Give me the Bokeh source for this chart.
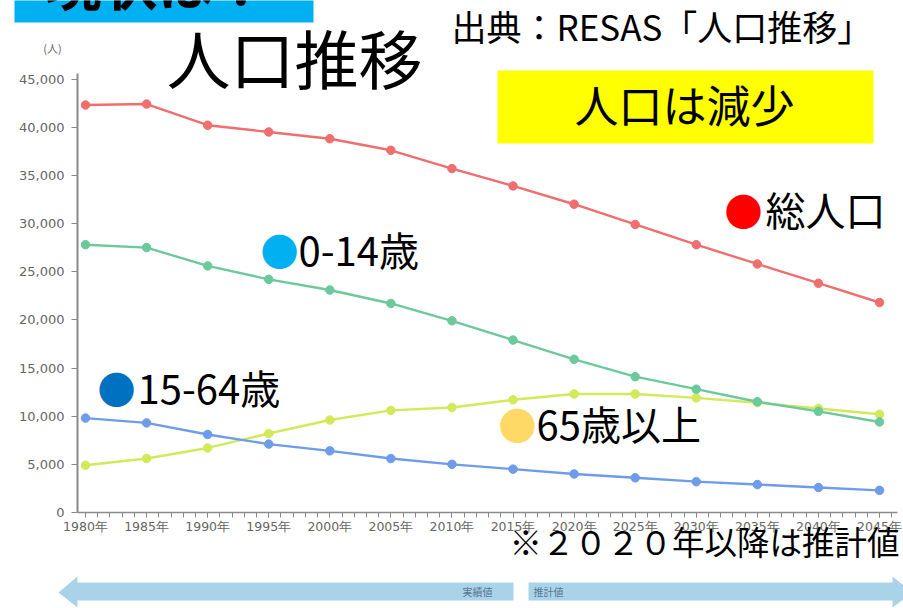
from bokeh.plotting import figure
from bokeh.models import Range1d, FixedTicker, NumeralTickFormatter, Label, BoxAnnotation, PolyAnnotation
from bokeh.embed import file_html
from bokeh.resources import INLINE

# ---- data ----
years = [1980, 1985, 1990, 1995, 2000, 2005, 2010, 2015, 2020, 2025, 2030, 2035, 2040, 2045]
total = [42300, 42400, 40200, 39500, 38800, 37600, 35700, 33900, 32000, 29900, 27800, 25800, 23800, 21800]
working = [27800, 27500, 25600, 24200, 23100, 21700, 19900, 17900, 15900, 14100, 12800, 11500, 10500, 9400]
young = [9800, 9300, 8100, 7100, 6400, 5600, 5000, 4500, 4000, 3600, 3200, 2900, 2600, 2300]
elderly = [4900, 5600, 6700, 8200, 9600, 10600, 10900, 11700, 12300, 12300, 11900, 11400, 10800, 10200]
x_tick_labels = [f"{y}年" for y in years]
y_ticks = [0, 5000, 10000, 15000, 20000, 25000, 30000, 35000, 40000, 45000]

# ---- pixel helpers (reference picture coordinates -> data) ----
PX_PER_YEAR = (879 - 85) / 65.0
UNITS_PER_PX = 45000 / (512 - 78.5)


def X(px):
    return 1980 + (px - 85) / PX_PER_YEAR


def Y(py):
    return (512 - py) * UNITS_PER_PX


def Yt(py, size):
    # vertical centre of CJK glyphs sits a little below the "middle" baseline
    return Y(py - 0.1 * size)


W, H = 903, 608
p = figure(width=W, height=H, output_backend="svg", toolbar_location=None,
           x_range=Range1d(X(0), X(W)), y_range=Range1d(Y(H), Y(0)),
           min_border=0, min_border_left=0, min_border_right=0,
           min_border_top=0, min_border_bottom=0)
p.title.visible = False
p.outline_line_color = None
p.grid.visible = False
p.background_fill_color = "white"
p.border_fill_color = "white"

# axes (kept in their side panels, drawn at fixed data locations)
p.xaxis.ticker = FixedTicker(ticks=years, minor_ticks=list(range(1980, 2047)))
p.xaxis.major_label_overrides = {y: lab for y, lab in zip(years, x_tick_labels)}
p.yaxis.ticker = FixedTicker(ticks=y_ticks)
p.yaxis.formatter = NumeralTickFormatter(format="0,0")
p.xaxis.fixed_location = 0
p.yaxis.fixed_location = X(77)
p.xaxis.bounds = (X(77), X(897))
p.yaxis.bounds = (0, Y(73))
for ax in (p.xaxis[0], p.yaxis[0]):
    ax.axis_line_color = "#8a8a8a"
    ax.major_tick_line_color = "#8a8a8a"
    ax.minor_tick_line_color = "#8a8a8a"
    ax.major_label_text_color = "#666666"
    ax.major_label_text_font = "DejaVu Sans"
    ax.major_tick_in = 0
    ax.minor_tick_in = 0
p.yaxis.axis_line_width = 2
p.xaxis.axis_line_width = 1.5
p.yaxis.major_tick_out = 6
p.yaxis.minor_tick_line_color = None
p.yaxis.major_label_text_font_size = "13px"
p.yaxis.major_label_standoff = 7
p.xaxis.major_tick_out = 5
p.xaxis.minor_tick_out = 5
p.xaxis.major_label_text_font_size = "12.5px"
p.xaxis.major_label_standoff = 1

# series
series = [
    (elderly, "#D4E95A"),
    (young, "#6E9CEB"),
    (working, "#6CC99B"),
    (total, "#F06E6E"),
]
for vals, col in series:
    p.line(years, vals, line_color=col, line_width=2.4)
    p.scatter(years, vals, size=8.5, fill_color=col, line_color=col)

# ---- decorations ----
CJK = "Noto Sans CJK JP"

# cyan header box (cut at top)
p.add_layout(BoxAnnotation(left=X(14), right=X(313), top=Y(-10), bottom=Y(22),
                           fill_color="#00B0F0", fill_alpha=1, line_color=None))
p.add_layout(Label(x=X(45), y=Y(20), text="現状は？", text_font=CJK, text_font_size="56px",
                   text_font_style="bold", text_baseline="bottom", text_color="black"))

# yellow box
p.add_layout(BoxAnnotation(left=X(497), right=X(873), top=Y(70), bottom=Y(143),
                           fill_color="#FFFF00", fill_alpha=1, line_color=None))
p.add_layout(Label(x=X(684), y=Yt(108, 44), text="人口は減少", text_font=CJK, text_font_size="44px",
                   text_align="center", text_baseline="middle", text_color="black"))

# big title and source
p.add_layout(Label(x=X(166), y=Yt(62, 64), text="人口推移", text_font=CJK, text_font_size="64px",
                   text_baseline="middle", text_color="black"))
p.add_layout(Label(x=X(451), y=Yt(28, 35), text="出典：RESAS「人口推移」", text_font=CJK,
                   text_font_size="35px", text_baseline="middle", text_color="black"))

# unit
p.add_layout(Label(x=X(52), y=Y(47), text="(人)", text_font=CJK, text_font_size="11px",
                   text_align="center", text_baseline="middle", text_color="#666666"))

# series labels with dots
legend_items = [
    (743, 212, "#FF0000", 765, "総人口"),
    (279, 252, "#00B0F0", 298, "0-14歳"),
    (116, 390, "#0070C0", 137, "15-64歳"),
    (517, 426, "#FFD966", 536, "65歳以上"),
]
for cx, cy, col, tx, txt in legend_items:
    p.add_layout(Label(x=X(cx), y=Yt(cy, 30), text="●", text_font=CJK, text_font_size="38px",
                       text_align="center", text_baseline="middle", text_color=col))
    p.add_layout(Label(x=X(tx), y=Yt(cy, 40), text=txt, text_font=CJK, text_font_size="40px",
                       text_baseline="middle", text_color="black"))

# note
p.add_layout(Label(x=X(509), y=Yt(543, 32.5), text="※２０２０年以降は推計値", text_font=CJK,
                   text_font_size="32.5px", text_baseline="middle", text_color="black"))

# bottom arrows
arrow_col = "#A9D3E9"
p.add_layout(PolyAnnotation(xs=[X(58), X(77), X(77), X(513), X(513), X(77), X(77)],
                            ys=[Y(592), Y(576), Y(582), Y(582), Y(600), Y(600), Y(607)],
                            fill_color=arrow_col, fill_alpha=1, line_color=None))
p.add_layout(PolyAnnotation(xs=[X(528), X(892), X(892), X(912), X(892), X(892), X(528)],
                            ys=[Y(582), Y(582), Y(576), Y(592), Y(607), Y(600), Y(600)],
                            fill_color=arrow_col, fill_alpha=1, line_color=None))
p.add_layout(Label(x=X(462), y=Y(591), text="実績値", text_font=CJK, text_font_size="10px",
                   text_baseline="middle", text_color="#5a7590"))
p.add_layout(Label(x=X(533), y=Y(591), text="推計値", text_font=CJK, text_font_size="10px",
                   text_baseline="middle", text_color="#5a7590"))

open("out.html", "w").write(file_html(p, INLINE))
